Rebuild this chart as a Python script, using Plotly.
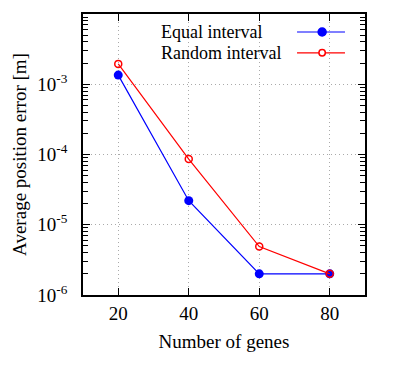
import plotly.graph_objects as go

genes = [20, 40, 60, 80]
equal_interval = [1.35e-3, 2.2e-5, 2.0e-6, 2.0e-6]
random_interval = [1.95e-3, 8.6e-5, 4.9e-6, 2.0e-6]
series_names = ["Equal interval", "Random interval"]
x_ticks = [20, 40, 60, 80]
y_tickvals = [1e-6, 1e-5, 1e-4, 1e-3, 1e-2]
y_ticktext = ["10<sup>-6</sup>", "10<sup>-5</sup>", "10<sup>-4</sup>", "10<sup>-3</sup>", "10<sup>-2</sup>"]
y_minor = [m * 10 ** e for e in range(-6, -2) for m in range(2, 10)]

font = "'Liberation Serif', serif"
BLUE, RED = "#0000ff", "#ff0000"

fig = go.Figure()
fig.add_trace(go.Scatter(
    x=genes, y=equal_interval, mode="lines+markers", name=series_names[0],
    line=dict(color=BLUE, width=1.2),
    marker=dict(symbol="circle", size=9, color=BLUE),
    showlegend=False,
))
fig.add_trace(go.Scatter(
    x=genes, y=random_interval, mode="lines+markers", name=series_names[1],
    line=dict(color=RED, width=1.2),
    marker=dict(symbol="circle-open", size=7, color=RED, line=dict(width=1.5)),
    showlegend=False,
))

# Manual gnuplot-style key (text on the left, sample on the right)
W, H = 282.0, 281.0
key_rows = [(0.936, BLUE, True), (0.862, RED, False)]
for (ky, col, filled), name in zip(key_rows, series_names):
    fig.add_annotation(xref="paper", yref="paper", x=0.270, y=ky, text=name,
                       showarrow=False, xanchor="left", yanchor="middle",
                       font=dict(family=font, size=18, color="black"))
    fig.add_shape(type="line", xref="paper", yref="paper", x0=0.759, x1=0.929,
                  y0=ky, y1=ky, line=dict(color=col, width=1.2))
    r = 4.0 if filled else 3.2
    fig.add_shape(type="circle", xref="paper", yref="paper",
                  x0=0.848 - r / W, x1=0.848 + r / W, y0=ky - r / H, y1=ky + r / H,
                  line=dict(color=col, width=1.5),
                  fillcolor=col if filled else "white")

axis_common = dict(
    showline=True, linecolor="black", linewidth=1.5, mirror="allticks",
    ticks="inside", tickcolor="black", ticklen=7, tickwidth=1,
    showgrid=True, gridcolor="#aaaaaa", griddash="1px,3px", gridwidth=1,
    zeroline=False, automargin=False,
    tickfont=dict(family=font, size=19, color="black"),
)

fig.update_layout(
    width=392, height=364,
    margin=dict(l=75, r=35, t=6, b=77),
    paper_bgcolor="white", plot_bgcolor="white",
    font=dict(family=font, color="black"),
    showlegend=False,
    xaxis=dict(
        range=[10, 90], tickvals=x_ticks,
        title=dict(text="Number of genes", font=dict(family=font, size=19), standoff=12),
        **axis_common,
    ),
    yaxis=dict(
        type="log", range=[-6, -2], tickvals=y_tickvals, ticktext=y_ticktext,
        ticklabelstandoff=10,
        minor=dict(ticks="inside", ticklen=5, tickcolor="black", tickwidth=1, showgrid=False,
                   tickvals=y_minor),
        title=dict(text="Average position error [m]", font=dict(family=font, size=19), standoff=6),
        **axis_common,
    ),
)

fig.write_html("out.html")
